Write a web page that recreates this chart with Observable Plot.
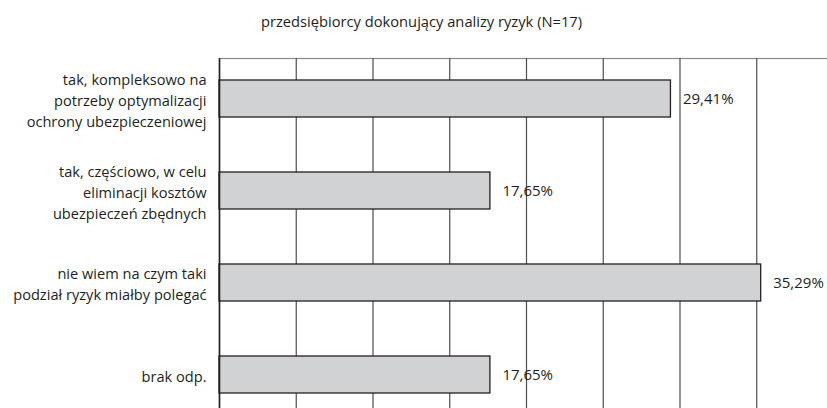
<!DOCTYPE html>
<html><head><meta charset="utf-8">
<script src="https://cdn.jsdelivr.net/npm/d3@7"></script>
<script src="https://cdn.jsdelivr.net/npm/@observablehq/plot@0.6"></script>
<style>
html,body{margin:0;padding:0;background:#fff;overflow:hidden;width:827px;height:408px;}
#title{font-family:"Open Sans",sans-serif;font-size:14.7px;color:#231f20;height:16px;line-height:16px;padding-top:13px;padding-left:16px;width:811px;text-align:center;white-space:nowrap;}
#chart svg{display:block;max-width:none !important;}
</style></head>
<body>
<div id="title">przedsiębiorcy dokonujący analizy ryzyk (N=17)</div>
<div id="chart"></div>
<script>
const categories = [
  "tak, kompleksowo na\npotrzeby optymalizacji\nochrony ubezpieczeniowej",
  "tak, częściowo, w celu\neliminacji kosztów\nubezpieczeń zbędnych",
  "nie wiem na czym taki\npodział ryzyk miałby polegać",
  "brak odp."
];
const values = [29.41, 17.65, 35.29, 17.65];
const gridTicks = [5, 10, 15, 20, 25, 30, 35];

const data = categories.map((c, i) => ({cat: c, value: values[i]}));
const fmt = v => v.toFixed(2).replace(".", ",") + "%";

const chart = Plot.plot({
  width: 833,
  height: 400,
  marginTop: 29,
  marginBottom: 14.6,
  marginLeft: 219,
  marginRight: 0,
  style: {fontFamily: "'Open Sans', sans-serif", fontSize: "14.6px", color: "#231f20", background: "#fff"},
  x: {domain: [0, 40], axis: null},
  y: {domain: categories, axis: null, paddingInner: 0.594, paddingOuter: 0.2275},
  marks: [
    Plot.frame({stroke: "#8a8a8a", strokeWidth: 1.2}),
    Plot.ruleX(gridTicks, {stroke: "#4d4d4d", strokeWidth: 1.2}),
    Plot.barX(data, {x: "value", y: "cat", fill: "#d1d2d4", stroke: "#231f20", strokeWidth: 1.3}),
    Plot.ruleX([0], {stroke: "#231f20", strokeWidth: 1.6}),
    Plot.text(data, {x: 0, y: "cat", text: "cat", textAnchor: "end", dx: -13, lineHeight: 1.43, fill: "#231f20"}),
    Plot.text(data, {x: "value", y: "cat", text: d => fmt(d.value), textAnchor: "start", dx: 12, fontSize: 15, fill: "#231f20"})
  ]
});
document.getElementById("chart").appendChild(chart);
</script>
</body></html>
